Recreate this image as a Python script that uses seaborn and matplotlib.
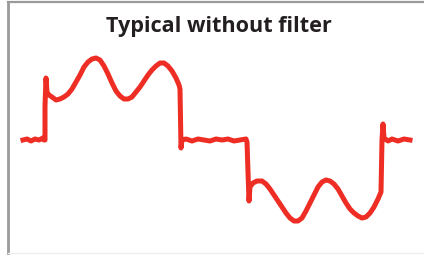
import pandas as pd
import seaborn as sns
import matplotlib.pyplot as plt

# trace: sample index and level in counts (flat line = 0)
samples = [0, 4, 8, 12, 16, 20, 21,
           22, 22, 23, 24, 26, 29, 33, 37, 41, 45, 49, 53, 57, 61, 65, 69, 73,
           77, 81, 85, 89, 93, 97, 101, 105, 109, 113, 117, 121, 125, 129, 133,
           137, 141, 145, 149, 153, 156, 157,
           158, 159, 163, 169, 175, 181, 187, 193, 199, 205, 211, 217, 223, 224,
           225, 226, 227, 230, 234, 239, 243, 247, 251, 255, 259, 263, 267, 271,
           275, 279, 283, 287, 291, 295, 299, 303, 307, 311, 315, 319, 323, 327,
           331, 335, 339, 343, 347, 351, 355, 358,
           359, 360, 361, 365, 369, 375, 381, 387]
levels = [0, 1, -1, 1, 0, 2, 0,
          0, 34, 62, 48, 45, 43, 40, 41, 43, 46, 51, 58, 65, 73, 78, 81, 82,
          80, 74, 66, 57, 49, 44, 41, 41, 43, 48, 53, 59, 65, 70, 74, 77,
          77, 74, 69, 62, 55, 51,
          -8, 0, 1, -1, 1, 0, -1, 1, 0, 1, -1, 0, 1, -2,
          -32, -61, -47, -43, -41, -41, -44, -49, -55, -61, -67, -73, -78, -81,
          -81, -78, -71, -63, -55, -47, -42, -40, -41, -44, -49, -56, -63, -69,
          -73, -76, -78, -77, -73, -67, -59, -52,
          0, 16, 2, -1, 1, -1, 1, 0]

title = 'Typical without filter'

df = pd.DataFrame({'sample': samples, 'level': levels})

fig = plt.figure(figsize=(4.24, 2.56), dpi=100)
ax = fig.add_axes([7.5 / 424, 3 / 256, 1 - 7.5 / 424, 251.5 / 256])

sns.lineplot(data=df, x='sample', y='level', ax=ax, color='#ee2e24',
             linewidth=3.6, estimator=None, sort=False)

# map the axes so the trace sits where it does in the picture
ax.set_xlim(-15.5, 401)
ax.set_ylim(-113, 138.5)
ax.set_xticks([])
ax.set_yticks([])
ax.set_xlabel('')
ax.set_ylabel('')

ax.spines['right'].set_visible(False)
ax.spines['left'].set_color('#9a9a9a')
ax.spines['left'].set_linewidth(2)
ax.spines['top'].set_color('#9a9a9a')
ax.spines['top'].set_linewidth(1.6)
ax.spines['bottom'].set_color('#eeeeee')
ax.spines['bottom'].set_linewidth(1)

fig.text(219 / 424, 1 - 32 / 256, title, ha='center', va='baseline',
         fontsize=15.6, fontweight='bold', family='Open Sans', color='#231f20')

fig.savefig('out.png', dpi=100)
